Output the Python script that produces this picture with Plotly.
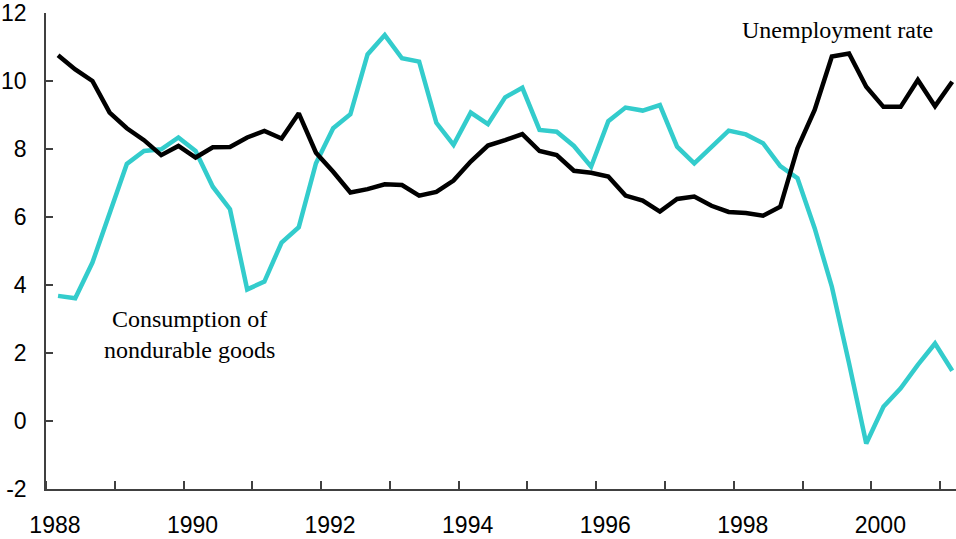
import plotly.graph_objects as go

# quarterly observations, 1988Q1 - 2001Q1
years = [1988 + i // 4 for i in range(53)]
quarters = [i % 4 + 1 for i in range(53)]

unemployment = [
    10.76, 10.34, 10.00, 9.07, 8.61, 8.26, 7.82, 8.09, 7.75, 8.05, 8.06, 8.34, 8.53,
    8.31, 9.05, 7.89, 7.33, 6.72, 6.82, 6.96, 6.94, 6.63, 6.74, 7.07, 7.63, 8.10,
    8.26, 8.44, 7.94, 7.82, 7.36, 7.30, 7.19, 6.63, 6.48, 6.16, 6.53, 6.60, 6.33,
    6.15, 6.12, 6.04, 6.30, 8.02, 9.15, 10.72, 10.81, 9.83, 9.24, 9.24, 10.03,
    9.26, 9.98,
]
consumption = [
    3.68, 3.61, 4.66, 6.11, 7.56, 7.94, 7.99, 8.34, 7.94, 6.89, 6.23, 3.87, 4.10,
    5.25, 5.70, 7.58, 8.61, 9.02, 10.78, 11.35, 10.67, 10.57, 8.77, 8.12, 9.07,
    8.73, 9.52, 9.80, 8.56, 8.51, 8.09, 7.48, 8.82, 9.22, 9.13, 9.29, 8.07, 7.58,
    8.07, 8.54, 8.43, 8.17, 7.50, 7.14, 5.67, 3.95, 1.70, -0.66, 0.42, 0.96, 1.65,
    2.28, 1.48,
]

tick_years = list(range(1988, 2001, 2))
all_years = list(range(1988, 2002))
y_ticks = [-2, 0, 2, 4, 6, 8, 10, 12]

x = [y + (q - 0.5) / 4 for y, q in zip(years, quarters)]

AXIS = "#404040"
SERIF = dict(family="Liberation Serif, Times New Roman, serif", size=24, color="black")

fig = go.Figure()
fig.add_trace(go.Scatter(x=x, y=consumption, mode="lines", cliponaxis=False,
                         line=dict(color="#33CCCC", width=4.5), name="Consumption"))
fig.add_trace(go.Scatter(x=x, y=unemployment, mode="lines", cliponaxis=False,
                         line=dict(color="black", width=4.5), name="Unemployment"))

fig.add_annotation(x=1999.46, y=11.5, text="Unemployment rate", showarrow=False,
                   font=SERIF, xanchor="center", yanchor="middle")
fig.add_annotation(x=1990.03, y=2.54, text="Consumption of<br>nondurable goods",
                   showarrow=False, font=SERIF, align="center",
                   xanchor="center", yanchor="middle")

fig.update_layout(
    width=956, height=539,
    paper_bgcolor="white", plot_bgcolor="white",
    showlegend=False,
    margin=dict(l=46, r=0, t=13, b=50),
    font=dict(family="Liberation Sans, Arial, sans-serif", size=23, color="black"),
    xaxis=dict(
        range=[1987.95, 2001.18], automargin=False,
        tickmode="array", tickvals=[y + 0.08 for y in tick_years],
        ticktext=[str(y) for y in tick_years],
        ticks="", showgrid=False, zeroline=False,
        showline=True, linecolor=AXIS, linewidth=1.5,
        ticklabelstandoff=15,
        minor=dict(tickmode="array", tickvals=[y - 0.05 for y in all_years],
                   ticks="inside", ticklen=8, tickcolor=AXIS, tickwidth=1.5,
                   showgrid=False),
    ),
    yaxis=dict(
        range=[-2, 12], automargin=False,
        tickmode="array", tickvals=y_ticks, ticktext=[str(v) for v in y_ticks],
        ticks="inside", ticklen=7, tickcolor=AXIS, tickwidth=1.5,
        showgrid=False, zeroline=False,
        showline=True, linecolor=AXIS, linewidth=1.5,
        ticklabelstandoff=13,
    ),
)

# drop the browser's default 8px body margin so the figure fills the window
fig.write_html("out.html", config={"displayModeBar": False},
               post_script="document.body.style.margin='0';"
                           "document.body.style.overflow='hidden';")
